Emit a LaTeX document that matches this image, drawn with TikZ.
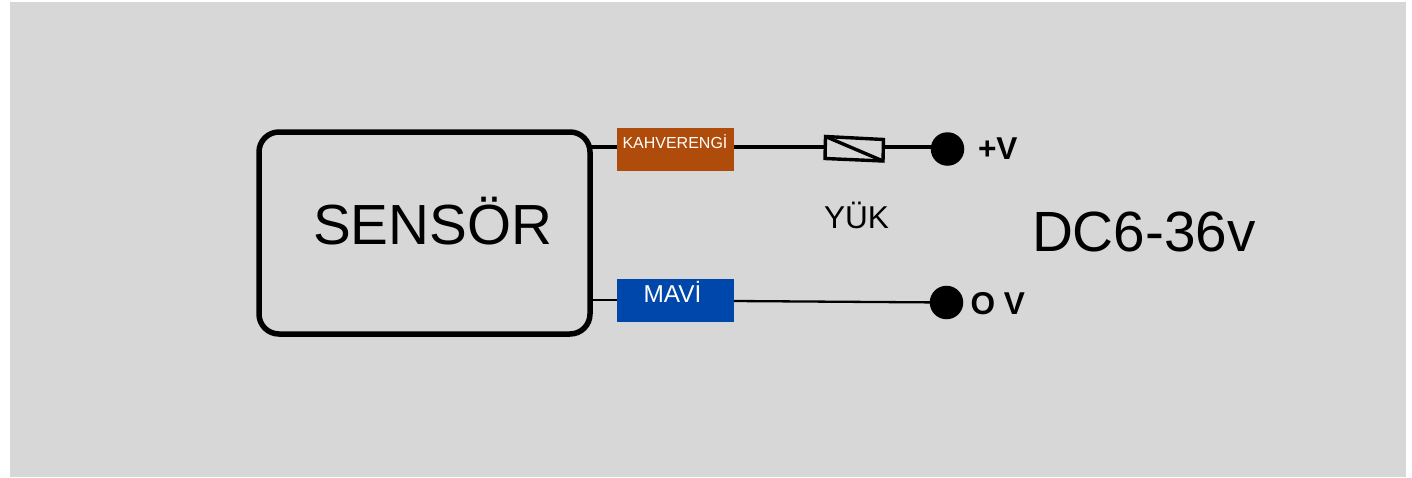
\documentclass[tikz,border=0pt]{standalone}
\usepackage{fontspec}
\setmainfont{Liberation Sans}
\definecolor{bgc}{HTML}{D7D7D7}
\definecolor{brownc}{HTML}{AF4C0B}
\definecolor{bluec}{HTML}{0047AB}
\tikzset{
  wire/.style={draw=black,line width=3.2pt},
  thinwire/.style={draw=black,line width=2.3pt},
  tag/.style={draw=none,minimum width=117pt,minimum height=43pt,inner sep=0pt,outer sep=0pt},
  term/.style={circle,fill=black,minimum size=33.5pt,inner sep=0pt,outer sep=0pt},
  lbl/.style={inner sep=0pt,outer sep=0pt,anchor=base west},
}
\newcommand{\fs}[1]{\fontsize{#1pt}{#1pt}\selectfont}
\begin{document}
\begin{tikzpicture}[x=1pt,y=-1pt]
\useasboundingbox (0,0) rectangle (1412,477);
\fill[bgc] (9.5,2) rectangle (1406,477);
% sensor box
\node[draw=black,line width=5.5pt,rounded corners=20pt,minimum width=331pt,minimum height=202pt,inner sep=0pt,outer sep=0pt] (sensor) at (424.5,233) {};
\node[lbl] (sensortxt) at (313,244) {\fs{56.6}SENSÖR};
% tags
\node[tag,fill=brownc] (kah) at (675.5,149) {};
\node[lbl,text=white] (kahtxt) at (622.5,148) {\fs{16}KAHVERENGİ};
\node[tag,fill=bluec] (mavi) at (675.5,300) {};
\node[lbl,text=white] (mavitxt) at (643.5,302.5) {\fs{24.4}MAVİ};
% terminals
\node[term] (tp) at (947.5,149) {};
\node[term] (tn) at (946.5,302.5) {};
% fuse
\coordinate (f1) at (825.5,136.5);
\coordinate (f2) at (883.5,139.5);
\coordinate (f3) at (883,161);
\coordinate (f4) at (825,158.5);
\coordinate (fl) at (825.3,147);
\coordinate (fr) at (883.3,147);
\draw[line width=3.4pt,line join=miter] (f1) -- (f2) -- (f3) -- (f4) -- cycle;
\draw[line width=3.4pt] (f1) -- (f3);
% wires
\coordinate (k1) at ([yshift=2pt]kah.west);
\coordinate (k2) at ([yshift=2pt]kah.east);
\coordinate (s1) at (sensor.east |- k1);
\draw[wire] (s1) -- (k1);
\draw[wire] (k2) -- (fl);
\draw[wire] (fr) -- (fr -| tp);
\coordinate (s2) at (sensor.east |- mavi.west);
\coordinate (m2) at ([yshift=-1pt]mavi.east);
\draw[thinwire] (s2) -- (mavi.west);
\draw[thinwire] (m2) -- (tn);
% labels
\node[lbl] (yuk) at (824,228) {\fs{31.6}YÜK};
\node[lbl] (dc) at (1032,251) {\fs{56.7}DC6-36v};
\node[lbl] (pv) at (978,159.5) {\fs{31.6}\bfseries +V};
\node[lbl] (ov) at (970.5,314) {\fs{31.6}\bfseries O V};
\end{tikzpicture}
\end{document}
